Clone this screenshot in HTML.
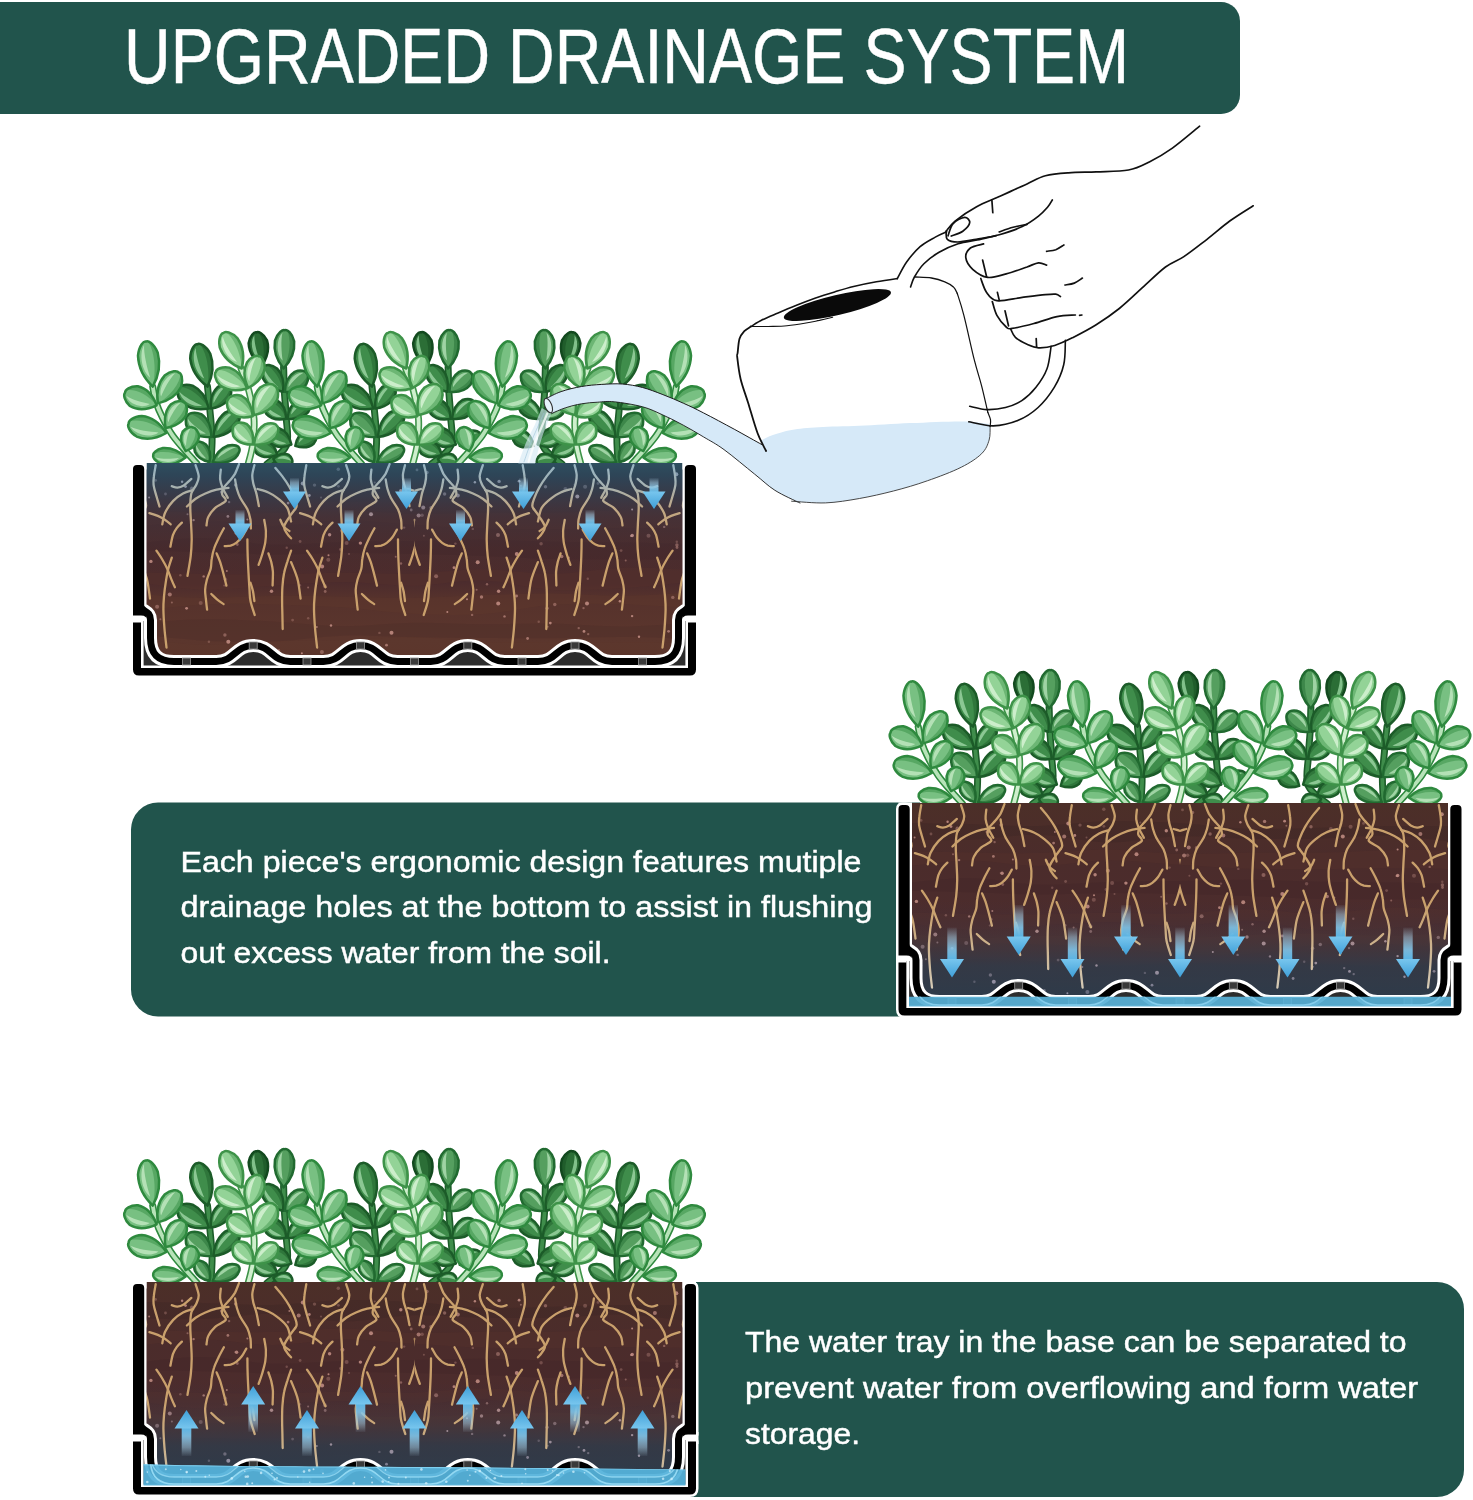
<!DOCTYPE html>
<html><head><meta charset="utf-8"><title>Upgraded Drainage System</title>
<style>
html,body{margin:0;padding:0;background:#fff;}
body{width:1473px;height:1500px;overflow:hidden;font-family:"Liberation Sans",sans-serif;}
svg{display:block;}
text{font-family:"Liberation Sans",sans-serif;fill:#fff;}
</style></head><body>
<svg width="1473" height="1500" viewBox="0 0 1473 1500">
<defs>
<filter id="noop" x="-5%" y="-20%" width="110%" height="140%"><feOffset dx="0" dy="0"/></filter>
<clipPath id="potclip"><path d="M7,0V141C7,150 17.5,146 17.5,157V175C17.5,191 25,198.5 41,198.5H83.2C101.8,198.5 101.8,182.5 120.2,182.5C138.8,182.5 138.8,198.5 157.2,198.5H190.5C209,198.5 209,182.5 227.5,182.5C246,182.5 246,198.5 264.5,198.5H297.8C316.2,198.5 316.2,182.5 334.8,182.5C353.2,182.5 353.2,198.5 371.8,198.5H405C423.5,198.5 423.5,182.5 442,182.5C460.5,182.5 460.5,198.5 479,198.5H522C538,198.5 545.5,191 545.5,175V157C545.5,146 556,150 556,141V0Z"/></clipPath>
<clipPath id="trayclip2"><rect x="10.5" y="193.5" width="542" height="10"/></clipPath><clipPath id="trayclip3"><path d="M10.5,182.3 C120,185.5 300,184 552.5,187.5 V203.5 H10.5Z"/></clipPath>
<linearGradient id="soil" x1="0" y1="0" x2="0" y2="1"><stop offset="0" stop-color="#4c2f28"/><stop offset="0.28" stop-color="#4b2c2b"/><stop offset="0.58" stop-color="#4c2c2d"/><stop offset="0.66" stop-color="#56322c"/><stop offset="0.85" stop-color="#5b362d"/><stop offset="1" stop-color="#5a342b"/></linearGradient>
<linearGradient id="wetTop" x1="0" y1="0" x2="0" y2="1"><stop offset="0" stop-color="#2e4e5f" stop-opacity="1"/><stop offset="0.12" stop-color="#2d4558" stop-opacity="0.97"/><stop offset="0.3" stop-color="#363c4c" stop-opacity="0.85"/><stop offset="0.5" stop-color="#3e3440" stop-opacity="0.55"/><stop offset="0.8" stop-color="#40303a" stop-opacity="0.15"/><stop offset="1" stop-color="#40303a" stop-opacity="0"/></linearGradient>
<linearGradient id="wetBot" x1="0" y1="0" x2="0" y2="1"><stop offset="0" stop-color="#40303a" stop-opacity="0"/><stop offset="0.3" stop-color="#3b3340" stop-opacity="0.45"/><stop offset="0.6" stop-color="#303a49" stop-opacity="0.88"/><stop offset="1" stop-color="#2b3b4b" stop-opacity="1"/></linearGradient>
<linearGradient id="rootG1" gradientUnits="userSpaceOnUse" x1="0" y1="0" x2="0" y2="75"><stop offset="0" stop-color="#94b4c4"/><stop offset="0.3" stop-color="#a6b2b2"/><stop offset="0.6" stop-color="#c0a886"/><stop offset="1" stop-color="#c9a06c"/></linearGradient>
<linearGradient id="rootG2" gradientUnits="userSpaceOnUse" x1="0" y1="105" x2="0" y2="195"><stop offset="0" stop-color="#c9a06c"/><stop offset="0.5" stop-color="#cdb694"/><stop offset="1" stop-color="#d6cfbf"/></linearGradient>
<linearGradient id="rootG3" gradientUnits="userSpaceOnUse" x1="0" y1="120" x2="0" y2="200"><stop offset="0" stop-color="#c9a06c"/><stop offset="0.5" stop-color="#c9ad84"/><stop offset="1" stop-color="#cdc2ac"/></linearGradient>
<linearGradient id="dotG1" gradientUnits="userSpaceOnUse" x1="0" y1="0" x2="0" y2="80"><stop offset="0" stop-color="#8eaec4"/><stop offset="0.5" stop-color="#a39aa8"/><stop offset="1" stop-color="#c48f85"/></linearGradient>
<linearGradient id="dotG2" gradientUnits="userSpaceOnUse" x1="0" y1="105" x2="0" y2="185"><stop offset="0" stop-color="#c48f85"/><stop offset="0.5" stop-color="#b09aa2"/><stop offset="1" stop-color="#a09db2"/></linearGradient>
<linearGradient id="dotG3" gradientUnits="userSpaceOnUse" x1="0" y1="105" x2="0" y2="185"><stop offset="0" stop-color="#c48f85"/><stop offset="0.5" stop-color="#b09aa2"/><stop offset="1" stop-color="#a09db2"/></linearGradient>
<linearGradient id="shaft" x1="0" y1="0" x2="0" y2="1"><stop offset="0" stop-color="#b5d9ee" stop-opacity="0.05"/><stop offset="0.3" stop-color="#a8d3ec" stop-opacity="0.5"/><stop offset="0.7" stop-color="#80c5e9" stop-opacity="0.9"/><stop offset="1" stop-color="#5ab4e4" stop-opacity="1"/></linearGradient>
<linearGradient id="ahead" x1="0" y1="0" x2="0" y2="1"><stop offset="0" stop-color="#78c6ee"/><stop offset="1" stop-color="#3f9fd8"/></linearGradient>
<g id="arrS"><rect x="-4.5" y="-31" width="9" height="15" fill="url(#shaft)"/><path d="M-11.5,-17.5H11.5L0,0Z" fill="url(#ahead)"/></g>
<g id="arrL"><rect x="-4.7" y="-50" width="9.4" height="32" fill="url(#shaft)"/><path d="M-12,-18.5H12L0,0Z" fill="url(#ahead)"/></g>
<g id="arrU"><rect x="-4.8" y="-46" width="9.6" height="28.5" fill="url(#shaft)"/><path d="M-12,-18.5H12L0,0Z" fill="url(#ahead)"/></g>
<g id="dots"><circle cx="188" cy="34.4" r="1" opacity="0.35"/><circle cx="452.1" cy="23.7" r="2" opacity="0.35"/><circle cx="499.1" cy="46.4" r="1" opacity="0.85"/><circle cx="238" cy="51.2" r="2" opacity="0.85"/><circle cx="47.4" cy="112.3" r="1.2" opacity="0.35"/><circle cx="322.4" cy="80.6" r="1.2" opacity="0.35"/><circle cx="311.6" cy="31" r="1.7" opacity="0.5"/><circle cx="303.1" cy="113.3" r="2" opacity="0.5"/><circle cx="70.7" cy="113.4" r="1.2" opacity="0.7"/><circle cx="67.7" cy="139.9" r="2" opacity="0.35"/><circle cx="344.7" cy="99.3" r="2" opacity="0.85"/><circle cx="428.7" cy="93.5" r="1.7" opacity="0.7"/><circle cx="175.2" cy="155.3" r="1.2" opacity="0.35"/><circle cx="321" cy="104.7" r="1.4" opacity="0.85"/><circle cx="168.9" cy="190.3" r="1" opacity="0.85"/><circle cx="103.6" cy="70.3" r="1.7" opacity="0.85"/><circle cx="36.8" cy="131.6" r="2" opacity="0.7"/><circle cx="196.6" cy="71.8" r="1.7" opacity="0.85"/><circle cx="52.5" cy="23.6" r="1.4" opacity="0.85"/><circle cx="386.1" cy="18.2" r="1.4" opacity="0.85"/><circle cx="167.1" cy="78.5" r="1.4" opacity="0.35"/><circle cx="515.5" cy="72.8" r="2" opacity="0.35"/><circle cx="278.2" cy="47" r="1.4" opacity="0.5"/><circle cx="408.1" cy="80.8" r="1.7" opacity="0.35"/><circle cx="104.3" cy="81.5" r="1.4" opacity="0.5"/><circle cx="451" cy="168.4" r="1.4" opacity="0.85"/><circle cx="539.8" cy="134.4" r="1.7" opacity="0.5"/><circle cx="96.1" cy="39.1" r="1.2" opacity="0.5"/><circle cx="22.4" cy="162.2" r="1.2" opacity="0.7"/><circle cx="165.7" cy="33.4" r="2" opacity="0.7"/><circle cx="339.8" cy="65.9" r="1.2" opacity="0.35"/><circle cx="258.5" cy="169.7" r="2" opacity="0.85"/><circle cx="227.4" cy="80.1" r="1.7" opacity="0.85"/><circle cx="49.1" cy="18.7" r="1.2" opacity="0.85"/><circle cx="102.2" cy="69.9" r="1" opacity="0.35"/><circle cx="16.1" cy="34.4" r="1" opacity="0.7"/><circle cx="341.9" cy="19.2" r="1.2" opacity="0.85"/><circle cx="94.9" cy="53.4" r="1.4" opacity="0.7"/><circle cx="267.8" cy="27.7" r="1.7" opacity="0.85"/><circle cx="271.1" cy="64.6" r="1.2" opacity="0.35"/><circle cx="414.1" cy="145.2" r="1.7" opacity="0.5"/><circle cx="290.2" cy="44.6" r="2" opacity="0.7"/><circle cx="93.8" cy="108.1" r="1" opacity="0.7"/><circle cx="535.6" cy="168.3" r="1.4" opacity="0.7"/><circle cx="498.3" cy="72.9" r="1.2" opacity="0.7"/><circle cx="354" cy="121.3" r="1.2" opacity="0.5"/><circle cx="450.5" cy="145.1" r="1.2" opacity="0.5"/><circle cx="290.9" cy="72.8" r="1" opacity="0.35"/><circle cx="435.6" cy="94.8" r="1.2" opacity="0.7"/><circle cx="253.5" cy="182.2" r="1.4" opacity="0.7"/><circle cx="58.8" cy="25.2" r="1.7" opacity="0.5"/><circle cx="195.3" cy="96.7" r="2" opacity="0.35"/><circle cx="270.6" cy="128.8" r="1" opacity="0.35"/><circle cx="499.1" cy="153.1" r="1.2" opacity="0.85"/><circle cx="488.1" cy="87.6" r="1.4" opacity="0.35"/><circle cx="441.2" cy="188.7" r="1.7" opacity="0.85"/><circle cx="229.1" cy="184" r="1.2" opacity="0.5"/><circle cx="543.3" cy="11.2" r="2" opacity="0.85"/><circle cx="444.3" cy="33.5" r="2" opacity="0.85"/><circle cx="365" cy="71.9" r="2" opacity="0.5"/><circle cx="27.4" cy="156.3" r="1" opacity="0.5"/><circle cx="246.4" cy="169.9" r="1.2" opacity="0.35"/><circle cx="149.7" cy="61.1" r="1.2" opacity="0.7"/><circle cx="153.7" cy="84.8" r="1.2" opacity="0.35"/><circle cx="499.2" cy="72.5" r="1.7" opacity="0.85"/><circle cx="455.2" cy="171.1" r="1.2" opacity="0.5"/><circle cx="294" cy="9.5" r="1.7" opacity="0.5"/><circle cx="339.1" cy="151.9" r="1.2" opacity="0.5"/><circle cx="91.2" cy="122.4" r="1" opacity="0.35"/><circle cx="189.1" cy="103.4" r="2" opacity="0.85"/><circle cx="432.4" cy="25.9" r="2" opacity="0.35"/><circle cx="148" cy="58.1" r="1" opacity="0.85"/><circle cx="314.3" cy="148.9" r="1" opacity="0.85"/><circle cx="188.9" cy="189" r="2" opacity="0.5"/><circle cx="383.8" cy="91" r="2" opacity="0.85"/><circle cx="285.6" cy="52.6" r="2" opacity="0.7"/><circle cx="506" cy="173.8" r="1.2" opacity="0.85"/><circle cx="88.8" cy="28.9" r="1.7" opacity="0.7"/><circle cx="54.5" cy="51.2" r="1" opacity="0.5"/><circle cx="371.5" cy="153.4" r="1.2" opacity="0.7"/><circle cx="91.9" cy="172" r="1.7" opacity="0.5"/><circle cx="412.5" cy="23.7" r="1.7" opacity="0.5"/><circle cx="541.6" cy="162.5" r="1.2" opacity="0.85"/><circle cx="543.9" cy="81.9" r="1.7" opacity="0.5"/><circle cx="205.4" cy="23.3" r="1.4" opacity="0.35"/><circle cx="195.5" cy="92.2" r="1" opacity="0.85"/><circle cx="192" cy="123.3" r="2" opacity="0.35"/><circle cx="75.9" cy="178.7" r="1.2" opacity="0.35"/><circle cx="60.6" cy="57.1" r="1.2" opacity="0.7"/><circle cx="417.3" cy="160.1" r="1.4" opacity="0.85"/><circle cx="95.3" cy="178.8" r="2" opacity="0.85"/><circle cx="387.9" cy="22.8" r="1" opacity="0.5"/><circle cx="241.8" cy="19.6" r="1" opacity="0.35"/><circle cx="441.7" cy="21.7" r="1.2" opacity="0.35"/><circle cx="156.4" cy="28.9" r="1" opacity="0.7"/><circle cx="544" cy="84.5" r="1.4" opacity="0.5"/><circle cx="38.9" cy="139.4" r="1" opacity="0.5"/><circle cx="155.1" cy="40.1" r="1.4" opacity="0.7"/><circle cx="298" cy="44.7" r="1.7" opacity="0.5"/><circle cx="159.6" cy="157.1" r="1.4" opacity="0.35"/><circle cx="24.1" cy="143.8" r="2" opacity="0.5"/><circle cx="289.1" cy="52.2" r="1.7" opacity="0.35"/><circle cx="365.6" cy="128.2" r="1.7" opacity="0.85"/><circle cx="531.2" cy="63.9" r="1.2" opacity="0.5"/><circle cx="198" cy="162.5" r="1.2" opacity="0.85"/><circle cx="541.4" cy="190.6" r="1.2" opacity="0.35"/><circle cx="53.6" cy="145.3" r="1.4" opacity="0.85"/><circle cx="102.7" cy="21.9" r="1.7" opacity="0.7"/><circle cx="334" cy="136.2" r="1" opacity="0.85"/><circle cx="114.4" cy="56.6" r="1" opacity="0.7"/><circle cx="209.4" cy="67.8" r="2" opacity="0.7"/><circle cx="145.8" cy="187.5" r="1.4" opacity="0.5"/><circle cx="205.3" cy="6.2" r="1.7" opacity="0.35"/><circle cx="268" cy="100.5" r="1.2" opacity="0.5"/><circle cx="284" cy="6.9" r="1.4" opacity="0.35"/><circle cx="92.4" cy="116.3" r="1.7" opacity="0.35"/><circle cx="175.1" cy="124.4" r="1" opacity="0.5"/><circle cx="365.2" cy="140.6" r="2" opacity="0.85"/><circle cx="421.8" cy="141.5" r="1.7" opacity="0.5"/><circle cx="166.9" cy="122.3" r="1.2" opacity="0.35"/><circle cx="454" cy="140.4" r="2" opacity="0.85"/><circle cx="405.7" cy="158.7" r="1.2" opacity="0.35"/><circle cx="454.8" cy="115.8" r="1.2" opacity="0.35"/><circle cx="32.5" cy="31" r="1.4" opacity="0.35"/><circle cx="216" cy="90.9" r="1" opacity="0.35"/><circle cx="348.5" cy="134" r="1.7" opacity="0.7"/><circle cx="17.8" cy="156" r="2" opacity="0.35"/><circle cx="366.1" cy="18.4" r="1.7" opacity="0.7"/><circle cx="445.7" cy="165.1" r="1.2" opacity="0.5"/><circle cx="138.5" cy="128.2" r="1.7" opacity="0.85"/><circle cx="465" cy="20.4" r="1.4" opacity="0.35"/><circle cx="343.6" cy="126.8" r="1" opacity="0.5"/><circle cx="192.2" cy="128.5" r="1.4" opacity="0.5"/><circle cx="22.6" cy="17.4" r="1.4" opacity="0.35"/><circle cx="383.6" cy="133" r="1.4" opacity="0.7"/><circle cx="262.7" cy="93.7" r="1" opacity="0.5"/><circle cx="181.5" cy="22.1" r="1.7" opacity="0.35"/><circle cx="169.8" cy="20.4" r="2" opacity="0.85"/><circle cx="543.8" cy="78.7" r="1.2" opacity="0.35"/><circle cx="324.8" cy="32.6" r="2" opacity="0.7"/><circle cx="521.9" cy="30.9" r="2" opacity="0.7"/><circle cx="486.9" cy="138.2" r="1.2" opacity="0.85"/><circle cx="492.7" cy="97.4" r="1" opacity="0.5"/><circle cx="17.9" cy="98.4" r="1.7" opacity="0.85"/><circle cx="176.3" cy="32.5" r="1.4" opacity="0.85"/><circle cx="183.8" cy="164" r="1" opacity="0.7"/><circle cx="414.6" cy="163.8" r="1" opacity="0.5"/><circle cx="394.6" cy="175.5" r="1.4" opacity="0.7"/><circle cx="213.6" cy="79.9" r="2" opacity="0.35"/><circle cx="207.5" cy="86.5" r="1.4" opacity="0.35"/></g>
<g id="bands"><path d="M0,19.9C11.7,20.1 46.7,20.4 70,21C93.3,21.5 116.7,23.5 140,23C163.3,22.5 186.7,18.6 210,18.1C233.3,17.6 256.7,18.8 280,20.1C303.3,21.4 326.7,25.2 350,26C373.3,26.7 396.7,25.2 420,24.7C443.3,24.2 466.7,23.4 490,23.1C513.3,22.8 548.3,23.1 560,23.1L560,39.7C548.3,38.5 513.3,33.2 490,32.5C466.7,31.9 443.3,35.2 420,35.8C396.7,36.3 373.3,36.1 350,35.7C326.7,35.3 303.3,32.7 280,33.3C256.7,34 233.3,39.7 210,39.4C186.7,39.1 163.3,32 140,31.7C116.7,31.3 93.3,36.2 70,37C46.7,37.8 11.7,36.5 0,36.4Z" fill="#3d2426" opacity="0.35"/><path d="M0,48.2C11.7,48.4 46.7,49.1 70,49.4C93.3,49.7 116.7,50.6 140,50.1C163.3,49.6 186.7,46.3 210,46.4C233.3,46.6 256.7,50.4 280,50.9C303.3,51.5 326.7,50 350,49.8C373.3,49.5 396.7,50.1 420,49.7C443.3,49.3 466.7,47.5 490,47.2C513.3,46.8 548.3,47.5 560,47.6L560,66.4C548.3,66.1 513.3,65 490,65C466.7,65 443.3,66.1 420,66.2C396.7,66.3 373.3,66.5 350,65.8C326.7,65 303.3,63.1 280,61.7C256.7,60.3 233.3,57.1 210,57.3C186.7,57.5 163.3,62.9 140,62.9C116.7,63 93.3,57.4 70,57.6C46.7,57.9 11.7,63.3 0,64.4Z" fill="#5a342c" opacity="0.25"/><path d="M0,81C11.7,80 46.7,75 70,75.1C93.3,75.2 116.7,81.1 140,81.7C163.3,82.4 186.7,79.6 210,79C233.3,78.4 256.7,78.4 280,78.1C303.3,77.7 326.7,76.7 350,76.8C373.3,76.9 396.7,78.2 420,78.7C443.3,79.1 466.7,79.1 490,79.5C513.3,79.8 548.3,80.6 560,80.9L560,96.9C548.3,96.8 513.3,96.4 490,96.3C466.7,96.1 443.3,96.6 420,96C396.7,95.5 373.3,93.7 350,92.9C326.7,92 303.3,91.3 280,90.9C256.7,90.4 233.3,89.9 210,90C186.7,90.1 163.3,91.5 140,91.4C116.7,91.2 93.3,89.7 70,89.2C46.7,88.6 11.7,88.2 0,88Z" fill="#3f2327" opacity="0.3"/><path d="M0,109.4C11.7,109.6 46.7,110.6 70,110.9C93.3,111.2 116.7,111.4 140,111.2C163.3,111 186.7,109.8 210,109.7C233.3,109.6 256.7,111.2 280,110.7C303.3,110.1 326.7,106.2 350,106.3C373.3,106.3 396.7,111.1 420,110.8C443.3,110.6 466.7,105.3 490,104.7C513.3,104.1 548.3,106.9 560,107.3L560,118.5C548.3,119.6 513.3,123.6 490,125C466.7,126.4 443.3,128.1 420,126.9C396.7,125.7 373.3,118.3 350,117.6C326.7,116.9 303.3,122.5 280,122.7C256.7,123 233.3,119.1 210,119.1C186.7,119.1 163.3,121.4 140,122.7C116.7,123.9 93.3,127.3 70,126.6C46.7,126 11.7,120 0,118.6Z" fill="#5b352c" opacity="0.25"/><path d="M0,130.4C11.7,131.1 46.7,134.6 70,135C93.3,135.4 116.7,133.1 140,132.9C163.3,132.7 186.7,133.4 210,133.7C233.3,134.1 256.7,135.3 280,135C303.3,134.8 326.7,132.8 350,132C373.3,131.3 396.7,130.4 420,130.5C443.3,130.6 466.7,132.9 490,132.8C513.3,132.6 548.3,130.1 560,129.6L560,145.1C548.3,144.5 513.3,141.9 490,141.3C466.7,140.8 443.3,140.2 420,141.8C396.7,143.4 373.3,149.5 350,151C326.7,152.5 303.3,151.9 280,150.8C256.7,149.7 233.3,145.9 210,144.3C186.7,142.8 163.3,141.9 140,141.4C116.7,141 93.3,140.2 70,141.4C46.7,142.6 11.7,147.5 0,148.7Z" fill="#633a2c" opacity="0.25"/><path d="M0,160.9C11.7,160.1 46.7,156.7 70,156.3C93.3,155.9 116.7,157.4 140,158.5C163.3,159.6 186.7,163 210,163.2C233.3,163.4 256.7,160 280,159.7C303.3,159.3 326.7,161 350,161.2C373.3,161.3 396.7,160.1 420,160.5C443.3,160.9 466.7,163.7 490,163.5C513.3,163.4 548.3,160.1 560,159.4L560,176.2C548.3,175.8 513.3,174.2 490,174.1C466.7,173.9 443.3,175.1 420,175.2C396.7,175.3 373.3,175.1 350,175C326.7,174.8 303.3,174.6 280,174.2C256.7,173.8 233.3,172 210,172.8C186.7,173.5 163.3,177.8 140,178.6C116.7,179.4 93.3,179 70,177.7C46.7,176.3 11.7,171.7 0,170.6Z" fill="#4a2a28" opacity="0.3"/><path d="M0,175.9C11.7,176.9 46.7,181.4 70,181.8C93.3,182.2 116.7,179.1 140,178.4C163.3,177.6 186.7,178 210,177.3C233.3,176.6 256.7,173.9 280,174.2C303.3,174.4 326.7,178.2 350,179.1C373.3,179.9 396.7,179 420,179C443.3,179.1 466.7,179.3 490,179.4C513.3,179.5 548.3,179.6 560,179.7L560,194.4C548.3,193.7 513.3,191 490,190.5C466.7,190.1 443.3,192.1 420,191.7C396.7,191.2 373.3,187.4 350,187.6C326.7,187.9 303.3,192.3 280,193.2C256.7,194 233.3,193.8 210,192.8C186.7,191.8 163.3,187.2 140,187.1C116.7,187 93.3,191.7 70,192.2C46.7,192.7 11.7,190.4 0,190Z" fill="#643a2b" opacity="0.2"/></g>
<g id="holes"><rect x="49.5" y="195" width="8" height="7" fill="#3a3a3a" stroke="#9a9a9a" stroke-width="0.8"/><rect x="170" y="195" width="8" height="7" fill="#3a3a3a" stroke="#9a9a9a" stroke-width="0.8"/><rect x="277.5" y="195" width="8" height="7" fill="#3a3a3a" stroke="#9a9a9a" stroke-width="0.8"/><rect x="385" y="195" width="8" height="7" fill="#3a3a3a" stroke="#9a9a9a" stroke-width="0.8"/><rect x="505.5" y="195" width="8" height="7" fill="#3a3a3a" stroke="#9a9a9a" stroke-width="0.8"/><rect x="116.2" y="179" width="8" height="7" fill="#3a3a3a" stroke="#9a9a9a" stroke-width="0.8"/><rect x="223.5" y="179" width="8" height="7" fill="#3a3a3a" stroke="#9a9a9a" stroke-width="0.8"/><rect x="330.8" y="179" width="8" height="7" fill="#3a3a3a" stroke="#9a9a9a" stroke-width="0.8"/><rect x="438" y="179" width="8" height="7" fill="#3a3a3a" stroke="#9a9a9a" stroke-width="0.8"/></g>
<g id="boxBack"><path d="M0,152.5V6Q0,2 4,2H7.2Q11.2,2 11.2,6V146L14.5,158Q14,152.5 8,152.5ZM563,152.5V6Q563,2 559,2H555.8Q551.8,2 551.8,6V146L548.5,158Q549,152.5 555,152.5ZM0,159.5V206.5Q0,212.5 6,212.5H557Q563,212.5 563,206.5V159.5H555V205H8V159.5Z" fill="#fff" stroke="#fff" stroke-width="5" stroke-linejoin="round"/><rect x="-2.5" y="150" width="568" height="12" fill="#fff"/><rect x="8" y="158" width="547" height="47" fill="#2d2d2d"/><path d="M0,159.5V206.5Q0,212.5 6,212.5H557Q563,212.5 563,206.5V159.5H555V205H8V159.5Z" fill="#000"/><path d="M9.3,158V203.7H553.7V158" fill="none" stroke="#fff" stroke-width="2.6"/></g>
<g id="boxFront"><path d="M7,0V141C7,150 17.5,146 17.5,157V175C17.5,191 25,198.5 41,198.5H83.2C101.8,198.5 101.8,182.5 120.2,182.5C138.8,182.5 138.8,198.5 157.2,198.5H190.5C209,198.5 209,182.5 227.5,182.5C246,182.5 246,198.5 264.5,198.5H297.8C316.2,198.5 316.2,182.5 334.8,182.5C353.2,182.5 353.2,198.5 371.8,198.5H405C423.5,198.5 423.5,182.5 442,182.5C460.5,182.5 460.5,198.5 479,198.5H522C538,198.5 545.5,191 545.5,175V157C545.5,146 556,150 556,141V0" fill="none" stroke="#fff" stroke-width="13"/><path d="M7,0V141C7,150 17.5,146 17.5,157V175C17.5,191 25,198.5 41,198.5H83.2C101.8,198.5 101.8,182.5 120.2,182.5C138.8,182.5 138.8,198.5 157.2,198.5H190.5C209,198.5 209,182.5 227.5,182.5C246,182.5 246,198.5 264.5,198.5H297.8C316.2,198.5 316.2,182.5 334.8,182.5C353.2,182.5 353.2,198.5 371.8,198.5H405C423.5,198.5 423.5,182.5 442,182.5C460.5,182.5 460.5,198.5 479,198.5H522C538,198.5 545.5,191 545.5,175V157C545.5,146 556,150 556,141V0" fill="none" stroke="#000" stroke-width="7" /><rect x="0" y="-0.5" width="13.5" height="7" fill="#fff"/><rect x="549.5" y="-0.5" width="13.5" height="7" fill="#fff"/><path d="M0,152.5V6Q0,2 4,2H7.2Q11.2,2 11.2,6V146L14.5,158Q14,152.5 8,152.5ZM563,152.5V6Q563,2 559,2H555.8Q551.8,2 551.8,6V146L548.5,158Q549,152.5 555,152.5Z" fill="#000"/><use href="#holes"/></g>
<g id="stemA"><path d="M64.2,1C62.3,-1.2 56.7,-7.2 52.6,-11.9C48.5,-16.6 43.6,-21.8 39.7,-27.4C35.9,-33 32.2,-39.9 29.4,-45.5C26.6,-51 24.6,-55.8 23,-60.9C21.3,-66.1 20.3,-73.8 19.7,-76.4" fill="none" stroke="#2f8a3f" stroke-width="7" stroke-linecap="round"/><path d="M64.2,1C62.3,-1.2 56.7,-7.2 52.6,-11.9C48.5,-16.6 43.6,-21.8 39.7,-27.4C35.9,-33 32.2,-39.9 29.4,-45.5C26.6,-51 24.6,-55.8 23,-60.9C21.3,-66.1 20.3,-73.8 19.7,-76.4" fill="none" stroke="#b7e3b8" stroke-width="3.8" stroke-linecap="round"/><g transform="translate(52.6,-5.5) rotate(-86.4)"><path d="M0,0C-2.3,-2.6 -9.4,-11.6 -8,-23.2C-6,-30.3 -1.6,-33.2 0,-32.3C1.6,-33.2 6,-30.3 8,-23.2C9.4,-11.6 2.3,-2.6 0,0Z" fill="#78c082" stroke="#2f8a3f" stroke-width="2.5" stroke-linejoin="round"/><path d="M0,0C2.3,-2.6 9.4,-11.6 8,-23.2C6.8,-29 4.2,-31.9 1.6,-32.3C5.5,-25.8 5.2,-11.3 0,0Z" fill="#2f8a3f" opacity="0.45"/><path d="M-1,-6.5C-6.8,-11.6 -7.2,-24.5 -2,-30C-3.3,-23.9 -2.3,-13.5 -1,-6.5Z" fill="#b7e3b8" opacity="0.95"/></g><g transform="translate(52.6,-11.9) rotate(17.4)"><path d="M0,0C-2.5,-2 -10.2,-8.9 -8.6,-17.7C-6.5,-23.1 -1.8,-25.3 0,-24.6C1.8,-25.3 6.5,-23.1 8.6,-17.7C10.2,-8.9 2.5,-2 0,0Z" fill="#78c082" stroke="#2f8a3f" stroke-width="2.5" stroke-linejoin="round"/><path d="M0,0C2.5,-2 10.2,-8.9 8.6,-17.7C7.4,-22.1 4.6,-24.4 1.8,-24.6C6,-19.7 5.6,-8.6 0,0Z" fill="#2f8a3f" opacity="0.45"/><path d="M-1.1,-4.9C-7.4,-8.9 -7.7,-18.7 -2.1,-22.9C-3.5,-18.2 -2.5,-10.3 -1.1,-4.9Z" fill="#b7e3b8" opacity="0.95"/></g><g transform="translate(33.3,-30) rotate(-76)"><path d="M0,0C-3,-3.1 -12.6,-13.9 -10.6,-27.9C-8,-36.4 -2.2,-39.9 0,-38.7C2.2,-39.9 8,-36.4 10.6,-27.9C12.6,-13.9 3,-3.1 0,0Z" fill="#78c082" stroke="#2f8a3f" stroke-width="2.5" stroke-linejoin="round"/><path d="M0,0C3,-3.1 12.6,-13.9 10.6,-27.9C9.1,-34.8 5.6,-38.3 2.2,-38.7C7.4,-31 6.9,-13.6 0,0Z" fill="#2f8a3f" opacity="0.45"/><path d="M-1.3,-7.7C-9.1,-13.9 -9.5,-29.4 -2.6,-36C-4.3,-28.6 -3,-16.3 -1.3,-7.7Z" fill="#b7e3b8" opacity="0.95"/></g><g transform="translate(32.6,-35.1) rotate(35.4)"><path d="M0,0C-2.7,-2.5 -11,-11.3 -9.3,-22.5C-7,-29.4 -1.9,-32.2 0,-31.3C1.9,-32.2 7,-29.4 9.3,-22.5C11,-11.3 2.7,-2.5 0,0Z" fill="#78c082" stroke="#2f8a3f" stroke-width="2.5" stroke-linejoin="round"/><path d="M0,0C2.7,-2.5 11,-11.3 9.3,-22.5C8,-28.1 4.9,-31 1.9,-31.3C6.4,-25 6.1,-10.9 0,0Z" fill="#2f8a3f" opacity="0.45"/><path d="M-1.1,-6.3C-8,-11.3 -8.3,-23.8 -2.3,-29.1C-3.8,-23.1 -2.7,-13.1 -1.1,-6.3Z" fill="#b7e3b8" opacity="0.95"/></g><g transform="translate(23.6,-57.7) rotate(-68)"><path d="M0,0C-3,-2.7 -12.6,-12.2 -10.6,-24.5C-8,-32 -2.2,-35 0,-34C2.2,-35 8,-32 10.6,-24.5C12.6,-12.2 3,-2.7 0,0Z" fill="#78c082" stroke="#2f8a3f" stroke-width="2.5" stroke-linejoin="round"/><path d="M0,0C3,-2.7 12.6,-12.2 10.6,-24.5C9.1,-30.6 5.6,-33.7 2.2,-34C7.4,-27.2 6.9,-11.9 0,0Z" fill="#2f8a3f" opacity="0.45"/><path d="M-1.3,-6.8C-9.1,-12.2 -9.5,-25.8 -2.6,-31.6C-4.3,-25.2 -3,-14.3 -1.3,-6.8Z" fill="#b7e3b8" opacity="0.95"/></g><g transform="translate(24.9,-59.6) rotate(34)"><path d="M0,0C-2.8,-3 -11.8,-13.4 -10,-26.8C-7.5,-35 -2,-38.3 0,-37.2C2,-38.3 7.5,-35 10,-26.8C11.8,-13.4 2.8,-3 0,0Z" fill="#78c082" stroke="#2f8a3f" stroke-width="2.5" stroke-linejoin="round"/><path d="M0,0C2.8,-3 11.8,-13.4 10,-26.8C8.5,-33.5 5.3,-36.8 2,-37.2C6.9,-29.8 6.5,-13 0,0Z" fill="#2f8a3f" opacity="0.45"/><path d="M-1.2,-7.4C-8.5,-13.4 -8.9,-28.3 -2.4,-34.6C-4.1,-27.5 -2.8,-15.6 -1.2,-7.4Z" fill="#b7e3b8" opacity="0.95"/></g><g transform="translate(19.7,-76.4) rotate(-8.5)"><path d="M0,0C-2.8,-3.6 -11.8,-16.4 -10,-32.7C-7.5,-42.7 -2,-46.8 0,-45.4C2,-46.8 7.5,-42.7 10,-32.7C11.8,-16.4 2.8,-3.6 0,0Z" fill="#78c082" stroke="#2f8a3f" stroke-width="2.5" stroke-linejoin="round"/><path d="M0,0C2.8,-3.6 11.8,-16.4 10,-32.7C8.5,-40.9 5.3,-45 2,-45.4C6.9,-36.3 6.5,-15.9 0,0Z" fill="#2f8a3f" opacity="0.45"/><path d="M-1.2,-9.1C-8.5,-16.4 -8.9,-34.5 -2.4,-42.3C-4.1,-33.6 -2.8,-19.1 -1.2,-9.1Z" fill="#b7e3b8" opacity="0.95"/></g></g>
<g id="stemB"><path d="M77.8,1C78,-3.3 79.2,-16.2 79.1,-24.8C79,-33.4 77.9,-42 77.1,-50.6C76.4,-59.2 75,-72.1 74.5,-76.4" fill="none" stroke="#1c5c29" stroke-width="7" stroke-linecap="round"/><path d="M77.8,1C78,-3.3 79.2,-16.2 79.1,-24.8C79,-33.4 77.9,-42 77.1,-50.6C76.4,-59.2 75,-72.1 74.5,-76.4" fill="none" stroke="#3f8d4b" stroke-width="3.8" stroke-linecap="round"/><g transform="translate(76.5,-1) rotate(-33.2)"><path d="M0,0C-1.9,-1.9 -7.9,-8.4 -6.6,-16.7C-5,-21.9 -1.4,-24 0,-23.3C1.4,-24 5,-21.9 6.6,-16.7C7.9,-8.4 1.9,-1.9 0,0Z" fill="#559f5f" stroke="#216a30" stroke-width="2.5" stroke-linejoin="round"/><path d="M0,0C1.9,-1.9 7.9,-8.4 6.6,-16.7C5.7,-20.9 3.5,-23 1.4,-23.3C4.6,-18.6 4.3,-8.1 0,0Z" fill="#216a30" opacity="0.45"/><path d="M-0.8,-4.7C-5.7,-8.4 -6,-17.7 -1.6,-21.6C-2.7,-17.2 -1.9,-9.8 -0.8,-4.7Z" fill="#a3d6a8" opacity="0.95"/></g><g transform="translate(79.7,-1) rotate(61.7)"><path d="M0,0C-2.1,-2.4 -8.6,-10.7 -7.3,-21.4C-5.5,-27.9 -1.5,-30.6 0,-29.7C1.5,-30.6 5.5,-27.9 7.3,-21.4C8.6,-10.7 2.1,-2.4 0,0Z" fill="#559f5f" stroke="#216a30" stroke-width="2.5" stroke-linejoin="round"/><path d="M0,0C2.1,-2.4 8.6,-10.7 7.3,-21.4C6.3,-26.7 3.9,-29.4 1.5,-29.7C5.1,-23.8 4.8,-10.4 0,0Z" fill="#216a30" opacity="0.45"/><path d="M-0.9,-5.9C-6.3,-10.7 -6.6,-22.6 -1.8,-27.6C-3,-22 -2.1,-12.5 -0.9,-5.9Z" fill="#a3d6a8" opacity="0.95"/></g><g transform="translate(78.4,-26.1) rotate(-47.6)"><path d="M0,0C-2.8,-2.5 -11.8,-11.5 -10,-22.9C-7.5,-29.9 -2,-32.8 0,-31.8C2,-32.8 7.5,-29.9 10,-22.9C11.8,-11.5 2.8,-2.5 0,0Z" fill="#559f5f" stroke="#216a30" stroke-width="2.5" stroke-linejoin="round"/><path d="M0,0C2.8,-2.5 11.8,-11.5 10,-22.9C8.5,-28.6 5.3,-31.5 2,-31.8C6.9,-25.4 6.5,-11.1 0,0Z" fill="#216a30" opacity="0.45"/><path d="M-1.2,-6.4C-8.5,-11.5 -8.9,-24.2 -2.4,-29.6C-4.1,-23.5 -2.8,-13.4 -1.2,-6.4Z" fill="#a3d6a8" opacity="0.95"/></g><g transform="translate(80.4,-26.1) rotate(44.2)"><path d="M0,0C-2.5,-2.8 -10.2,-12.8 -8.6,-25.6C-6.5,-33.4 -1.8,-36.6 0,-35.6C1.8,-36.6 6.5,-33.4 8.6,-25.6C10.2,-12.8 2.5,-2.8 0,0Z" fill="#3f8d4b" stroke="#1c5c29" stroke-width="2.5" stroke-linejoin="round"/><path d="M0,0C2.5,-2.8 10.2,-12.8 8.6,-25.6C7.4,-32 4.6,-35.2 1.8,-35.6C6,-28.5 5.6,-12.5 0,0Z" fill="#1c5c29" opacity="0.45"/><path d="M-1.1,-7.1C-7.4,-12.8 -7.7,-27 -2.1,-33.1C-3.5,-26.3 -2.5,-14.9 -1.1,-7.1Z" fill="#8fca97" opacity="0.95"/></g><g transform="translate(75.8,-54.5) rotate(-56.3)"><path d="M0,0C-2.8,-2.9 -11.8,-13.1 -10,-26.1C-7.5,-34.1 -2,-37.4 0,-36.3C2,-37.4 7.5,-34.1 10,-26.1C11.8,-13.1 2.8,-2.9 0,0Z" fill="#3f8d4b" stroke="#1c5c29" stroke-width="2.5" stroke-linejoin="round"/><path d="M0,0C2.8,-2.9 11.8,-13.1 10,-26.1C8.5,-32.6 5.3,-35.9 2,-36.3C6.9,-29 6.5,-12.7 0,0Z" fill="#1c5c29" opacity="0.45"/><path d="M-1.2,-7.3C-8.5,-13.1 -8.9,-27.6 -2.4,-33.7C-4.1,-26.8 -2.8,-15.2 -1.2,-7.3Z" fill="#8fca97" opacity="0.95"/></g><g transform="translate(77.8,-54.5) rotate(38.5)"><path d="M0,0C-2.3,-2.3 -9.4,-10.5 -8,-21C-6,-27.4 -1.6,-30 0,-29.1C1.6,-30 6,-27.4 8,-21C9.4,-10.5 2.3,-2.3 0,0Z" fill="#3f8d4b" stroke="#1c5c29" stroke-width="2.5" stroke-linejoin="round"/><path d="M0,0C2.3,-2.3 9.4,-10.5 8,-21C6.8,-26.2 4.2,-28.8 1.6,-29.1C5.5,-23.3 5.2,-10.2 0,0Z" fill="#1c5c29" opacity="0.45"/><path d="M-1,-5.8C-6.8,-10.5 -7.2,-22.1 -2,-27.1C-3.3,-21.5 -2.3,-12.2 -1,-5.8Z" fill="#8fca97" opacity="0.95"/></g><g transform="translate(74.5,-76.4) rotate(-13.4)"><path d="M0,0C-2.9,-3.5 -12.2,-15.6 -10.3,-31.3C-7.8,-40.8 -2.1,-44.7 0,-43.4C2.1,-44.7 7.8,-40.8 10.3,-31.3C12.2,-15.6 2.9,-3.5 0,0Z" fill="#3f8d4b" stroke="#1c5c29" stroke-width="2.5" stroke-linejoin="round"/><path d="M0,0C2.9,-3.5 12.2,-15.6 10.3,-31.3C8.8,-39.1 5.5,-43 2.1,-43.4C7.1,-34.7 6.7,-15.2 0,0Z" fill="#1c5c29" opacity="0.45"/><path d="M-1.3,-8.7C-8.8,-15.6 -9.2,-33 -2.5,-40.4C-4.2,-32.1 -2.9,-18.2 -1.3,-8.7Z" fill="#8fca97" opacity="0.95"/></g></g>
<g id="stemC"><path d="M115.2,1C115.9,-2.2 118.7,-10.8 119.7,-18.4C120.7,-25.9 121.6,-35.1 121,-44.2C120.3,-53.2 118,-64.2 115.8,-72.5C113.7,-80.9 109.4,-90.8 108.1,-94.5" fill="none" stroke="#3e9349" stroke-width="7" stroke-linecap="round"/><path d="M115.2,1C115.9,-2.2 118.7,-10.8 119.7,-18.4C120.7,-25.9 121.6,-35.1 121,-44.2C120.3,-53.2 118,-64.2 115.8,-72.5C113.7,-80.9 109.4,-90.8 108.1,-94.5" fill="none" stroke="#cfefcd" stroke-width="3.8" stroke-linecap="round"/><g transform="translate(119.7,-18.4) rotate(-40.9)"><path d="M0,0C-2.6,-2.1 -10.6,-9.6 -9,-19.2C-6.8,-25 -1.8,-27.4 0,-26.6C1.8,-27.4 6.8,-25 9,-19.2C10.6,-9.6 2.6,-2.1 0,0Z" fill="#93d397" stroke="#3e9349" stroke-width="2.5" stroke-linejoin="round"/><path d="M0,0C2.6,-2.1 10.6,-9.6 9,-19.2C7.7,-24 4.8,-26.4 1.8,-26.6C6.2,-21.3 5.9,-9.3 0,0Z" fill="#3e9349" opacity="0.45"/><path d="M-1.1,-5.3C-7.7,-9.6 -8,-20.2 -2.2,-24.8C-3.7,-19.7 -2.6,-11.2 -1.1,-5.3Z" fill="#cfefcd" opacity="0.95"/></g><g transform="translate(121,-18.4) rotate(50.5)"><path d="M0,0C-2.5,-2.4 -10.2,-10.6 -8.6,-21.3C-6.5,-27.8 -1.8,-30.4 0,-29.5C1.8,-30.4 6.5,-27.8 8.6,-21.3C10.2,-10.6 2.5,-2.4 0,0Z" fill="#93d397" stroke="#3e9349" stroke-width="2.5" stroke-linejoin="round"/><path d="M0,0C2.5,-2.4 10.2,-10.6 8.6,-21.3C7.4,-26.6 4.6,-29.2 1.8,-29.5C6,-23.6 5.6,-10.3 0,0Z" fill="#3e9349" opacity="0.45"/><path d="M-1.1,-5.9C-7.4,-10.6 -7.7,-22.5 -2.1,-27.5C-3.5,-21.9 -2.5,-12.4 -1.1,-5.9Z" fill="#cfefcd" opacity="0.95"/></g><g transform="translate(119.7,-46.7) rotate(-54.2)"><path d="M0,0C-2.8,-2.4 -11.8,-10.7 -10,-21.4C-7.5,-28 -2,-30.7 0,-29.8C2,-30.7 7.5,-28 10,-21.4C11.8,-10.7 2.8,-2.4 0,0Z" fill="#93d397" stroke="#3e9349" stroke-width="2.5" stroke-linejoin="round"/><path d="M0,0C2.8,-2.4 11.8,-10.7 10,-21.4C8.5,-26.8 5.3,-29.5 2,-29.8C6.9,-23.8 6.5,-10.4 0,0Z" fill="#3e9349" opacity="0.45"/><path d="M-1.2,-6C-8.5,-10.7 -8.9,-22.6 -2.4,-27.7C-4.1,-22 -2.8,-12.5 -1.2,-6Z" fill="#cfefcd" opacity="0.95"/></g><g transform="translate(121,-48) rotate(34.3)"><path d="M0,0C-3,-2.9 -12.6,-12.9 -10.6,-25.7C-8,-33.6 -2.2,-36.8 0,-35.7C2.2,-36.8 8,-33.6 10.6,-25.7C12.6,-12.9 3,-2.9 0,0Z" fill="#93d397" stroke="#3e9349" stroke-width="2.5" stroke-linejoin="round"/><path d="M0,0C3,-2.9 12.6,-12.9 10.6,-25.7C9.1,-32.1 5.6,-35.4 2.2,-35.7C7.4,-28.6 6.9,-12.5 0,0Z" fill="#3e9349" opacity="0.45"/><path d="M-1.3,-7.1C-9.1,-12.9 -9.5,-27.1 -2.6,-33.2C-4.3,-26.4 -3,-15 -1.3,-7.1Z" fill="#cfefcd" opacity="0.95"/></g><g transform="translate(108.7,-94.5) rotate(-27)"><path d="M0,0C-2.8,-3.2 -11.8,-14.4 -10,-28.7C-7.5,-37.5 -2,-41.1 0,-39.9C2,-41.1 7.5,-37.5 10,-28.7C11.8,-14.4 2.8,-3.2 0,0Z" fill="#93d397" stroke="#3e9349" stroke-width="2.5" stroke-linejoin="round"/><path d="M0,0C2.8,-3.2 11.8,-14.4 10,-28.7C8.5,-35.9 5.3,-39.5 2,-39.9C6.9,-31.9 6.5,-14 0,0Z" fill="#3e9349" opacity="0.45"/><path d="M-1.2,-8C-8.5,-14.4 -8.9,-30.3 -2.4,-37.1C-4.1,-29.5 -2.8,-16.8 -1.2,-8Z" fill="#cfefcd" opacity="0.95"/></g><g transform="translate(113.9,-74.5) rotate(-61.5)"><path d="M0,0C-2.8,-2.8 -11.8,-12.6 -10,-25.3C-7.5,-33 -2,-36.2 0,-35.1C2,-36.2 7.5,-33 10,-25.3C11.8,-12.6 2.8,-2.8 0,0Z" fill="#93d397" stroke="#3e9349" stroke-width="2.5" stroke-linejoin="round"/><path d="M0,0C2.8,-2.8 11.8,-12.6 10,-25.3C8.5,-31.6 5.3,-34.8 2,-35.1C6.9,-28.1 6.5,-12.3 0,0Z" fill="#3e9349" opacity="0.45"/><path d="M-1.2,-7C-8.5,-12.6 -8.9,-26.7 -2.4,-32.7C-4.1,-26 -2.8,-14.7 -1.2,-7Z" fill="#cfefcd" opacity="0.95"/></g><g transform="translate(115.2,-75.1) rotate(18.8)"><path d="M0,0C-2.7,-2.7 -11,-12 -9.3,-24C-7,-31.3 -1.9,-34.3 0,-33.3C1.9,-34.3 7,-31.3 9.3,-24C11,-12 2.7,-2.7 0,0Z" fill="#93d397" stroke="#3e9349" stroke-width="2.5" stroke-linejoin="round"/><path d="M0,0C2.7,-2.7 11,-12 9.3,-24C8,-30 4.9,-33 1.9,-33.3C6.4,-26.6 6.1,-11.7 0,0Z" fill="#3e9349" opacity="0.45"/><path d="M-1.1,-6.7C-8,-12 -8.3,-25.3 -2.3,-31C-3.8,-24.6 -2.7,-14 -1.1,-6.7Z" fill="#cfefcd" opacity="0.95"/></g></g>
<g id="stemD"><path d="M133.9,1C137.1,-2 150,-9.3 153.2,-17.1C156.5,-24.8 153.6,-36.2 153.2,-45.5C152.9,-54.7 151.7,-64.2 151.3,-72.5C150.9,-80.9 150.8,-91.9 150.6,-95.8" fill="none" stroke="#1c5c29" stroke-width="7" stroke-linecap="round"/><path d="M133.9,1C137.1,-2 150,-9.3 153.2,-17.1C156.5,-24.8 153.6,-36.2 153.2,-45.5C152.9,-54.7 151.7,-64.2 151.3,-72.5C150.9,-80.9 150.8,-91.9 150.6,-95.8" fill="none" stroke="#3f8d4b" stroke-width="3.8" stroke-linecap="round"/><g transform="translate(128.7,-97) rotate(-9.1)"><path d="M0,0C-2.7,-2.7 -11,-12.2 -9.3,-24.5C-7,-31.9 -1.9,-35 0,-34C1.9,-35 7,-31.9 9.3,-24.5C11,-12.2 2.7,-2.7 0,0Z" fill="#2b6e36" stroke="#134a1f" stroke-width="2.5" stroke-linejoin="round"/><path d="M0,0C2.7,-2.7 11,-12.2 9.3,-24.5C8,-30.6 4.9,-33.6 1.9,-34C6.4,-27.2 6.1,-11.9 0,0Z" fill="#134a1f" opacity="0.45"/><path d="M-1.1,-6.8C-8,-12.2 -8.3,-25.8 -2.3,-31.6C-3.8,-25.1 -2.7,-14.3 -1.1,-6.8Z" fill="#86c48f" opacity="0.95"/></g><g transform="translate(144.2,-8) rotate(-62.1)"><path d="M0,0C-2.4,-2.1 -9.8,-9.3 -8.3,-18.6C-6.3,-24.3 -1.7,-26.6 0,-25.8C1.7,-26.6 6.3,-24.3 8.3,-18.6C9.8,-9.3 2.4,-2.1 0,0Z" fill="#3f8d4b" stroke="#1c5c29" stroke-width="2.5" stroke-linejoin="round"/><path d="M0,0C2.4,-2.1 9.8,-9.3 8.3,-18.6C7.1,-23.2 4.4,-25.5 1.7,-25.8C5.8,-20.6 5.4,-9 0,0Z" fill="#1c5c29" opacity="0.45"/><path d="M-1,-5.2C-7.1,-9.3 -7.4,-19.6 -2,-24C-3.4,-19.1 -2.4,-10.8 -1,-5.2Z" fill="#8fca97" opacity="0.95"/></g><g transform="translate(140.3,-4.2) rotate(102.1)"><path d="M0,0C-2.1,-1.5 -8.6,-6.9 -7.3,-13.8C-5.5,-18.1 -1.5,-19.8 0,-19.2C1.5,-19.8 5.5,-18.1 7.3,-13.8C8.6,-6.9 2.1,-1.5 0,0Z" fill="#3f8d4b" stroke="#1c5c29" stroke-width="2.5" stroke-linejoin="round"/><path d="M0,0C2.1,-1.5 8.6,-6.9 7.3,-13.8C6.3,-17.3 3.9,-19 1.5,-19.2C5.1,-15.4 4.8,-6.7 0,0Z" fill="#1c5c29" opacity="0.45"/><path d="M-0.9,-3.8C-6.3,-6.9 -6.6,-14.6 -1.8,-17.9C-3,-14.2 -2.1,-8.1 -0.9,-3.8Z" fill="#8fca97" opacity="0.95"/></g><g transform="translate(158.4,-18.4) rotate(-62.1)"><path d="M0,0C-2.5,-2.1 -10.2,-9.3 -8.6,-18.6C-6.5,-24.3 -1.8,-26.6 0,-25.8C1.8,-26.6 6.5,-24.3 8.6,-18.6C10.2,-9.3 2.5,-2.1 0,0Z" fill="#3f8d4b" stroke="#1c5c29" stroke-width="2.5" stroke-linejoin="round"/><path d="M0,0C2.5,-2.1 10.2,-9.3 8.6,-18.6C7.4,-23.2 4.6,-25.5 1.8,-25.8C6,-20.6 5.6,-9 0,0Z" fill="#1c5c29" opacity="0.45"/><path d="M-1.1,-5.2C-7.4,-9.3 -7.7,-19.6 -2.1,-24C-3.5,-19.1 -2.5,-10.8 -1.1,-5.2Z" fill="#8fca97" opacity="0.95"/></g><g transform="translate(162.3,-17.1) rotate(59)"><path d="M0,0C-2.2,-1.9 -9,-8.4 -7.6,-16.9C-5.8,-22.1 -1.6,-24.2 0,-23.5C1.6,-24.2 5.8,-22.1 7.6,-16.9C9,-8.4 2.2,-1.9 0,0Z" fill="#3f8d4b" stroke="#1c5c29" stroke-width="2.5" stroke-linejoin="round"/><path d="M0,0C2.2,-1.9 9,-8.4 7.6,-16.9C6.5,-21.1 4,-23.2 1.6,-23.5C5.3,-18.8 5,-8.2 0,0Z" fill="#1c5c29" opacity="0.45"/><path d="M-0.9,-4.7C-6.5,-8.4 -6.9,-17.8 -1.9,-21.8C-3.1,-17.4 -2.2,-9.9 -0.9,-4.7Z" fill="#8fca97" opacity="0.95"/></g><g transform="translate(153.2,-44.2) rotate(-51.3)"><path d="M0,0C-2.5,-2.1 -10.2,-9.3 -8.6,-18.6C-6.5,-24.2 -1.8,-26.5 0,-25.8C1.8,-26.5 6.5,-24.2 8.6,-18.6C10.2,-9.3 2.5,-2.1 0,0Z" fill="#3f8d4b" stroke="#1c5c29" stroke-width="2.5" stroke-linejoin="round"/><path d="M0,0C2.5,-2.1 10.2,-9.3 8.6,-18.6C7.4,-23.2 4.6,-25.5 1.8,-25.8C6,-20.6 5.6,-9 0,0Z" fill="#1c5c29" opacity="0.45"/><path d="M-1.1,-5.2C-7.4,-9.3 -7.7,-19.6 -2.1,-24C-3.5,-19.1 -2.5,-10.8 -1.1,-5.2Z" fill="#8fca97" opacity="0.95"/></g><g transform="translate(154.5,-44.2) rotate(50.9)"><path d="M0,0C-2.3,-2.2 -9.4,-10 -8,-19.9C-6,-26 -1.6,-28.5 0,-27.7C1.6,-28.5 6,-26 8,-19.9C9.4,-10 2.3,-2.2 0,0Z" fill="#3f8d4b" stroke="#1c5c29" stroke-width="2.5" stroke-linejoin="round"/><path d="M0,0C2.3,-2.2 9.4,-10 8,-19.9C6.8,-24.9 4.2,-27.4 1.6,-27.7C5.5,-22.1 5.2,-9.7 0,0Z" fill="#1c5c29" opacity="0.45"/><path d="M-1,-5.5C-6.8,-10 -7.2,-21 -2,-25.7C-3.3,-20.5 -2.3,-11.6 -1,-5.5Z" fill="#8fca97" opacity="0.95"/></g><g transform="translate(150,-71.2) rotate(-35.4)"><path d="M0,0C-2.5,-2.5 -10.2,-11.3 -8.6,-22.5C-6.5,-29.4 -1.8,-32.2 0,-31.3C1.8,-32.2 6.5,-29.4 8.6,-22.5C10.2,-11.3 2.5,-2.5 0,0Z" fill="#3f8d4b" stroke="#1c5c29" stroke-width="2.5" stroke-linejoin="round"/><path d="M0,0C2.5,-2.5 10.2,-11.3 8.6,-22.5C7.4,-28.1 4.6,-31 1.8,-31.3C6,-25 5.6,-10.9 0,0Z" fill="#1c5c29" opacity="0.45"/><path d="M-1.1,-6.3C-7.4,-11.3 -7.7,-23.8 -2.1,-29.1C-3.5,-23.1 -2.5,-13.1 -1.1,-6.3Z" fill="#8fca97" opacity="0.95"/></g><g transform="translate(151.9,-71.2) rotate(48.8)"><path d="M0,0C-2.5,-2.3 -10.2,-10.3 -8.6,-20.5C-6.5,-26.8 -1.8,-29.4 0,-28.5C1.8,-29.4 6.5,-26.8 8.6,-20.5C10.2,-10.3 2.5,-2.3 0,0Z" fill="#559f5f" stroke="#216a30" stroke-width="2.5" stroke-linejoin="round"/><path d="M0,0C2.5,-2.3 10.2,-10.3 8.6,-20.5C7.4,-25.7 4.6,-28.2 1.8,-28.5C6,-22.8 5.6,-10 0,0Z" fill="#216a30" opacity="0.45"/><path d="M-1.1,-5.7C-7.4,-10.3 -7.7,-21.7 -2.1,-26.5C-3.5,-21.1 -2.5,-12 -1.1,-5.7Z" fill="#a3d6a8" opacity="0.95"/></g><g transform="translate(150.6,-94.5) rotate(2)"><path d="M0,0C-2.7,-3.1 -11.4,-13.8 -9.6,-27.5C-7.3,-36 -2,-39.4 0,-38.3C2,-39.4 7.3,-36 9.6,-27.5C11.4,-13.8 2.7,-3.1 0,0Z" fill="#559f5f" stroke="#216a30" stroke-width="2.5" stroke-linejoin="round"/><path d="M0,0C2.7,-3.1 11.4,-13.8 9.6,-27.5C8.2,-34.4 5.1,-37.9 2,-38.3C6.7,-30.6 6.3,-13.4 0,0Z" fill="#216a30" opacity="0.45"/><path d="M-1.2,-7.7C-8.2,-13.8 -8.6,-29.1 -2.4,-35.6C-3.9,-28.3 -2.7,-16.1 -1.2,-7.7Z" fill="#a3d6a8" opacity="0.95"/></g></g>
<g id="cluster"><use href="#stemD"/><use href="#stemB"/><use href="#stemA"/><use href="#stemC"/></g>
<clipPath id="plantclip"><rect x="-40" y="-160" width="660" height="160.5"/></clipPath>
<g id="plants" clip-path="url(#plantclip)"><use href="#cluster"/><use href="#cluster" x="164.5"/><g transform="translate(563,0) scale(-1,1)"><use href="#cluster"/><use href="#stemA" x="174"/></g></g>
<g id="rootTile" fill="none" stroke-width="2.3" stroke-linecap="round" stroke-linejoin="round"><path d="M6.3,2.2C6,4.1 4.8,10.1 4.5,13.4C4.1,16.7 3.8,18.5 4.2,21.8C4.6,25.1 6,29.4 7,33C8,36.6 9.6,41.7 10.1,43.5"/><path d="M46.2,2.2C46.7,4.1 49.2,10.1 49.3,13.4C49.4,16.7 48.1,19 46.9,21.8C45.7,24.6 43,26.5 42,30.2C41,33.9 40.9,39.1 40.9,44.2C40.8,49.3 41.5,55.6 41.7,61C41.9,66.4 42.3,71 42.3,76.4C42.2,81.8 42,87.1 41.3,93.2C40.6,99.3 38.6,109.5 38.1,112.8"/><path d="M22.4,23.2C23.3,23.4 26,24.7 28,24.6C30,24.5 32,23.9 34.3,22.5C36.6,21 40.7,17 42,15.9"/><path d="M43.7,27.1C42,27.7 36.9,28.7 33.6,30.5C30.3,32.3 26.8,34.7 23.8,37.9C20.8,41.1 17.5,45.9 15.7,49.8C13.9,53.7 13.3,59.4 12.9,61.3"/><path d="M0,50.1C1.4,50.5 5.8,51.8 8.4,52.9C11,54 13.3,55.4 15.4,56.8C17.5,58.2 20.3,60.5 21.3,61.3"/><path d="M79.1,24.9C77.1,25.2 71,25.8 67.2,26.7C63.3,27.6 59.5,29 56,30.5C52.5,32 49.3,33.6 46.2,35.8C43.1,38 39,42.2 37.5,43.5"/><path d="M89.6,1.1C88.9,2.7 87.2,7.8 85.7,10.6C84.1,13.4 82.4,15.1 80.5,17.6C78.5,20 75.2,23 73.9,25.3C72.6,27.6 72.4,29.5 72.8,31.6C73.2,33.7 77.5,35.7 76.3,37.9C75.1,40.1 68.7,42.2 65.8,44.9C62.9,47.6 60.2,51.1 58.8,54C57.3,56.9 57.4,61 57.1,62.4"/><path d="M71.4,6.7C71.3,8.3 70.4,13.2 70.7,16.2C71,19.2 71.8,21.5 73.1,24.6C74.4,27.7 77.5,33 78.4,34.7"/><path d="M85.7,16.5C86,18.1 86.6,22.9 87.5,26C88.4,29.1 89.2,31.7 91,35.1C92.7,38.5 96.3,42.7 98,46.3C99.7,49.9 100.5,53.6 101.1,56.8C101.6,60 101.4,64 101.5,65.5"/><path d="M105,2.2C104.6,3.8 103.1,9 102.9,12C102.7,15 103.2,17.2 103.9,20.4C104.6,23.5 106.1,27.1 107.1,30.9C108,34.7 109.1,41 109.5,43.1"/><path d="M108.1,26C109.9,26.6 115.6,28 119,29.5C122.3,31 124.9,32.5 128.1,35.1C131.2,37.7 135.6,41 137.9,44.9C140.1,48.8 141,56.2 141.7,58.5"/><path d="M126,5C127.1,6.4 130.6,10.2 133,13.4C135.3,16.5 137.9,20.2 140,23.9C142.1,27.6 144.4,32.6 145.6,35.8C146.8,38.9 147.3,41 147.3,42.8C147.3,44.5 145.9,45.7 145.6,46.3"/><path d="M145.9,45.9C144.9,47.2 141.8,51 140,54C138.1,57 135,61 134.7,63.8C134.3,66.6 136.7,68.9 137.9,70.8C139,72.7 141,74.5 141.7,75.3"/><path d="M32.5,59.6C31.6,60.5 28.8,63.1 27.3,65.2C25.8,67.3 24.6,69.1 23.5,72.2C22.5,75.3 21.4,81.8 21,83.7"/><path d="M74.5,65.2C73.6,66.8 70.9,71.6 69.3,75C67.7,78.4 65.8,82 64.7,85.5C63.5,89 62.8,92.6 62.3,96C61.7,99.4 62.1,102.3 61.3,105.8C60.5,109.3 58.3,113.5 57.4,117C56.5,120.5 55.8,123.3 55.7,126.8C55.6,130.3 56.4,134.7 56.7,138C57,141.3 57.5,145.2 57.7,146.7"/><path d="M96.9,66.6C96.1,67.9 94.1,72.1 92.4,74.3C90.7,76.5 88.7,78.5 86.8,79.9C84.9,81.3 83.1,82.1 81.2,82.7C79.3,83.2 76.3,83 75.3,83.1"/><path d="M98,76.4C98,79.2 98.1,87.6 98.3,93.2C98.5,98.8 98.8,104.4 99.1,110C99.4,115.6 99.8,122.1 100.1,126.8C100.4,131.4 100.2,133.8 101.1,138C101.9,142.2 104.6,149.6 105.3,152"/><path d="M114.8,56.8C115.1,58.7 116.3,64.3 116.5,68C116.6,71.7 116.5,75.2 115.9,79.2C115.3,83.2 113.8,88 112.7,91.8C111.6,95.6 109.8,100.2 109.2,101.9"/><path d="M119,90.4C119.4,91.8 121,95.8 121.8,98.8C122.5,101.8 123.2,104.6 123.5,108.6C123.7,112.5 123.2,120.2 123.2,122.6"/><path d="M141.7,87.6C141,89.5 139,95.1 137.9,98.8C136.7,102.5 135.5,105.8 134.7,110C133.8,114.2 133.3,119.3 133,124C132.7,128.6 132.7,133.3 132.7,138C132.7,142.6 132.9,147.3 133,152C133.1,156.6 133.2,163.6 133.3,166"/><path d="M141.7,99.1C142.3,100.7 144.4,105.4 145.6,108.6C146.7,111.8 147.7,113.9 148.7,118.4C149.6,122.9 150.8,132.6 151.2,135.5"/><path d="M7,87.6C7.9,89 10.8,93.1 12.6,96C14.3,98.9 16,101.8 17.5,105.1C19,108.3 20.4,112.4 21.7,115.6C23,118.8 24.8,122.8 25.5,124.3"/><path d="M22.4,94.6C21.8,96.5 19.9,101.8 18.9,105.8C17.9,109.7 17.2,113.9 16.5,118.4C15.8,122.8 15.1,127.7 14.7,132.4C14.3,137 13.9,140.8 14,146.4C14.1,152 14.6,159.6 15.1,166C15.6,172.3 16.8,181.4 17.1,184.5"/><path d="M67.2,90.4C67.8,91.8 69.6,95.8 70.7,98.8C71.7,101.8 72.4,104.6 73.5,108.6C74.5,112.5 76.4,120.2 77,122.6"/><path d="M61.9,131C62.9,131.9 65.8,134.9 67.9,136.6C69.9,138.3 73.1,140.3 74.2,141.1"/><path d="M130.9,56.8C131.5,58 132.9,61.9 134.4,63.8C135.9,65.7 139,67.3 140,68"/><path d="M101.1,119.8C101.5,121.2 102.9,125.1 103.6,128.2C104.2,131.2 104.7,136.3 105,138"/></g>
<clipPath id="halfclip"><rect x="0" y="-5" width="281.5" height="230"/></clipPath>
<g id="rootsHalf" clip-path="url(#halfclip)"><use href="#rootTile" x="-134.2" y="0"/><use href="#rootTile" x="16.4" y="0"/><use href="#rootTile" x="167" y="0"/></g>
<g id="roots"><use href="#rootsHalf"/><use href="#rootsHalf" transform="translate(563,0) scale(-1,1)"/></g>
</defs>
<rect x="0" y="0" width="1473" height="1500" fill="#fff"/>
<rect x="-40" y="2" width="1280" height="112" rx="19" ry="19" fill="#21544c"/>
<g filter="url(#noop)" stroke="#fff" stroke-width="0.45"><text x="124" y="82.7" font-size="77.5" textLength="1005" lengthAdjust="spacingAndGlyphs">UPGRADED DRAINAGE SYSTEM</text></g>
<path d="M158,802.5H920V1016.5H158A27,27 0 0 1 131,989.5V829.5A27,27 0 0 1 158,802.5Z" fill="#21544c"/>
<path d="M680,1282H1437A27,27 0 0 1 1464,1309V1470A27,27 0 0 1 1437,1497H680Z" fill="#21544c"/>
<g filter="url(#noop)" stroke="#fff" stroke-width="0.45"><text x="180.5" y="871.5" font-size="30" textLength="681" lengthAdjust="spacingAndGlyphs">Each piece&#39;s ergonomic design features mutiple</text>
<text x="180.5" y="917.4" font-size="30" textLength="692" lengthAdjust="spacingAndGlyphs">drainage holes at the bottom to assist in flushing</text>
<text x="180.5" y="963.3" font-size="30" textLength="430" lengthAdjust="spacingAndGlyphs">out excess water from the soil.</text>
<text x="745" y="1352.3" font-size="30" textLength="661.5" lengthAdjust="spacingAndGlyphs">The water tray in the base can be separated to</text>
<text x="745" y="1398.1" font-size="30" textLength="673" lengthAdjust="spacingAndGlyphs">prevent water from overflowing and form water</text>
<text x="745" y="1443.9" font-size="30" textLength="115" lengthAdjust="spacingAndGlyphs">storage.</text>
</g><g transform="translate(133,463)">
<use href="#plants"/>
<use href="#boxBack"/>
<g clip-path="url(#potclip)">
<rect x="0" y="0" width="563" height="206" fill="url(#soil)"/>
<use href="#bands"/>
<rect x="0" y="0" width="563" height="110" fill="url(#wetTop)"/>
<g fill="url(#dotG1)"><use href="#dots"/></g>
<g stroke="url(#rootG1)"><use href="#roots"/></g>
<use href="#arrS" x="107" y="78"/><use href="#arrS" x="216" y="78"/><use href="#arrS" x="327.5" y="78"/><use href="#arrS" x="457" y="78"/><use href="#arrS" x="161.5" y="46"/><use href="#arrS" x="273.5" y="46"/><use href="#arrS" x="390.5" y="46"/><use href="#arrS" x="521" y="46"/>
</g>
<use href="#boxFront"/>
</g>
<g id="can" fill="none" stroke="#111" stroke-width="1.6" stroke-linecap="round" stroke-linejoin="round">
<path d="M541.8,407.9C540.6,410.7 537.2,419.6 534.6,425.2C532.1,430.8 529.2,435.1 526.5,441.5C523.8,447.8 519.7,459.8 518.3,463.5L535,463.5C536,459.8 538.9,447.5 540.7,441.5C542.5,435.4 544.1,431.9 545.8,427.2C547.6,422.5 550.4,415.7 551.3,413.4Z" fill="#d4e8f4" stroke="none" opacity="0.62"/><path d="M547.3,413.4C546.2,416 543,423.9 540.7,429.2C538.5,434.6 535.6,440.1 533.6,445.5C531.6,451 529.4,459.1 528.5,461.8" stroke="#fff" stroke-width="2.2" opacity="0.75"/><path d="M543.8,413.4C542.6,416 538.9,424.2 536.7,429.2C534.5,434.3 532.7,438.1 530.5,443.5C528.4,448.9 525.1,458.8 524,461.8" stroke="#9cc3d8" stroke-width="1" opacity="0.6"/>
<path d="M545.8,398.7C548.4,397.5 555.2,393.6 561.1,391.6C567,389.5 574.7,387.7 581.5,386.5C588.3,385.3 595,384.8 601.8,384.4C608.6,384 615.4,383.5 622.2,384C629,384.5 635.8,385.7 642.6,387.5C649.4,389.3 656.1,392 662.9,394.6C669.7,397.2 676.5,400.1 683.3,403.2C690.1,406.2 695.2,408.6 703.7,413C712.2,417.3 724.5,424 734.2,429.2C743.9,434.5 757.1,442 761.7,444.5L761.7,440.1C763.6,439.2 767.9,436.7 772.9,435C777.9,433.3 783.9,431.2 791.6,429.9C799.2,428.6 807.4,427.9 818.7,427.2C830,426.5 844.2,426.5 859.4,425.8C874.7,425.2 893.4,423.9 910.4,423.1C927.3,422.4 948.3,421.3 961.3,421.4C974.3,421.5 983.9,423.4 988.4,423.8L990.1,426.5C990,428.8 990.5,435.6 989.1,440.1C987.7,444.6 986.3,449.1 981.6,453.7C977,458.2 970.3,462.7 961.3,467.2C952.2,471.8 938.6,476.9 927.3,480.8C916,484.8 904.7,488.1 893.4,491C882.1,493.9 870.8,496.5 859.4,498.5C848.1,500.5 836.8,502.4 825.5,502.9C814.2,503.3 797.2,501.5 791.6,501.2L800,503C795.8,500.9 782.5,495.2 774.9,490.3C767.4,485.5 763.1,480.8 754.6,474.1C746.1,467.3 732.5,455.8 724,449.6C715.5,443.4 710.5,441.1 703.7,437C696.9,432.9 690.1,428.8 683.3,425.2C676.5,421.5 669.7,418 662.9,415C656.1,411.9 650.7,409 642.6,406.8C634.4,404.6 621.5,402.5 614.1,401.8C606.6,401 603.2,401.8 597.8,402.2C592.3,402.5 586.9,402.8 581.5,403.8C576,404.7 570.1,406.3 565.2,407.9C560.3,409.5 554.1,412.4 551.9,413.4Z" fill="#d6e9f8" stroke="none"/>
<path d="M545.8,398.7C548.4,397.5 555.2,393.6 561.1,391.6C567,389.5 574.7,387.7 581.5,386.5C588.3,385.3 595,384.8 601.8,384.4C608.6,384 615.4,383.5 622.2,384C629,384.5 635.8,385.7 642.6,387.5C649.4,389.3 656.1,392 662.9,394.6C669.7,397.2 676.5,400.1 683.3,403.2C690.1,406.2 695.2,408.6 703.7,413C712.2,417.3 724.5,424 734.2,429.2C743.9,434.5 757.1,442 761.7,444.5" stroke="#1a1a1a" stroke-width="1"/>
<path d="M551.9,413.4C554.1,412.4 560.3,409.5 565.2,407.9C570.1,406.3 576,404.7 581.5,403.8C586.9,402.8 592.3,402.5 597.8,402.2C603.2,401.8 606.6,401 614.1,401.8C621.5,402.5 634.4,404.6 642.6,406.8C650.7,409 656.1,411.9 662.9,415C669.7,418 676.5,421.5 683.3,425.2C690.1,428.8 696.9,432.9 703.7,437C710.5,441.1 715.5,443.4 724,449.6C732.5,455.8 746.1,467.3 754.6,474.1C763.1,480.8 767.4,485.5 774.9,490.3C782.5,495.2 795.8,500.9 800,503" stroke="#1a1a1a" stroke-width="0.9"/>
<path d="M791.6,501.2C797.2,501.5 814.2,503.3 825.5,502.9C836.8,502.4 848.1,500.5 859.4,498.5C870.8,496.5 882.1,493.9 893.4,491C904.7,488.1 916,484.8 927.3,480.8C938.6,476.9 952.2,471.8 961.3,467.2C970.3,462.7 977,458.2 981.6,453.7C986.3,449.1 987.7,444.6 989.1,440.1C990.5,435.6 990,428.8 990.1,426.5" stroke="#333" stroke-width="0.9"/>
<ellipse cx="548.3" cy="405.6" rx="3.4" ry="7.6" transform="rotate(-22 548.3 405.6)" fill="#e6f2fa" stroke="#333" stroke-width="1.1"/>
<path d="M766.1,451C764.7,448 760.6,441.3 757.6,433.3C754.6,425.3 750.9,411.8 748.1,402.7C745.3,393.7 742.4,386.6 740.6,379C738.8,371.4 737.7,361.2 737.2,356.9C736.7,352.6 737.2,356.1 737.6,353.1C738,350.1 738.4,342.5 739.5,338.8C740.6,335.2 742.4,333.3 744.3,331.2C746.2,329.2 749.8,327.3 750.9,326.5" stroke-width="1.8"/>
<path d="M750.9,326.5C752.8,325.4 757.9,322 762.3,319.8C766.8,317.6 771.8,315.6 777.5,313.2C783.2,310.7 790.2,307.7 796.5,305.2C802.9,302.6 809.2,300.2 815.6,297.9C821.9,295.7 828.2,293.8 834.6,291.9C840.9,290 846.6,288.2 853.6,286.5C860.5,284.9 869.1,283.1 876.4,281.8C883.7,280.5 893.8,279.1 897.3,278.6"/>
<path d="M915.4,277C918.1,277.2 926.6,277.2 931.5,278C936.4,278.8 941.2,280.3 944.8,281.8C948.5,283.3 951.3,285 953.4,286.9C955.4,288.8 956.6,292.1 957.2,293.2" stroke-width="1.3"/>
<path d="M957.2,293.2C958.3,296.8 961,303.9 963.8,315.1C966.7,326.2 971.3,348.1 974.3,359.9C977.3,371.7 979.4,377.1 981.6,385.8C983.9,394.5 986.7,407.8 987.8,412.3" stroke-width="1.2"/>
<path d="M990.1,426.5C990.2,425.4 990.9,422.1 990.5,419.7C990.1,417.3 988.2,413.5 987.8,412.3" stroke-width="1.2"/>
<ellipse cx="837.4" cy="305" rx="55" ry="10" transform="rotate(-13.3 837.4 305)" fill="#0a0a0a" stroke="none"/><path d="M750.9,326.5C753.8,326.5 762,326.6 768,326.5C774,326.3 780.7,326.3 787,325.7C793.4,325.1 800.7,323.9 806,323C811.4,322.2 814.9,321.3 819.4,320.4C823.8,319.4 830.4,317.8 832.7,317.3" stroke-width="1.1"/>
<path d="M897.3,278.6C898.9,275.8 903,267.1 906.8,261.8C910.6,256.5 915.4,250.7 920.1,246.6C924.9,242.5 930.9,239.6 935.3,237.1C939.8,234.6 944.8,232.7 946.7,231.8"/>
<path d="M910.6,286.9C911.2,285.3 912.2,280.9 914.4,277C916.6,273.2 919.8,267.8 923.9,263.7C928,259.6 933.4,255.6 939.1,252.3C944.8,249 951.8,245.8 958.1,243.8C964.5,241.7 970.8,241.3 977.1,240C983.5,238.6 993,236.3 996.2,235.6"/>
<path d="M1065.4,340.3C1065.1,344.4 1065.6,357 1063.7,364.8C1061.9,372.6 1058.7,380 1054.4,387.2C1050.1,394.3 1044.2,402 1038.1,407.5C1032,413.1 1025.2,417.5 1017.7,420.6C1010.3,423.6 1001.4,425.7 993.3,425.9C985.1,426.1 972.9,422.5 968.8,421.8"/>
<path d="M1051.1,346.4C1050.4,350.2 1049.6,362.1 1047,368.8C1044.5,375.6 1040.3,381.9 1036,387.2C1031.8,392.5 1026.9,397.2 1021.8,400.6C1016.7,404 1011.3,406 1005.5,407.5C999.7,409 993.1,409.8 987.2,409.6C981.2,409.4 972.6,406.9 969.7,406.3"/>
<path d="M1199.6,126.2C1195.1,129.8 1180.8,142.1 1172.4,148.1C1164,154.1 1156.6,158.3 1149.3,161.9C1142,165.6 1137.4,168.4 1128.5,170C1119.7,171.7 1106.2,171.4 1096.2,171.9C1086.2,172.3 1077,172.1 1068.5,172.8C1060,173.4 1052.3,173.9 1045.4,175.8C1038.5,177.6 1034.6,180.4 1027,183.9C1019.3,187.3 1007.7,192.7 999.3,196.6C990.8,200.4 983.5,202.9 976.2,207C968.9,211 960.4,216.8 955.4,220.8C950.4,224.8 947.7,229.5 946.2,231.2" stroke-width="1.7"/>
<path d="M946.2,231.2C946.4,232.5 945.4,237.5 947.3,239.3C949.2,241.1 952.9,242 957.7,242C962.5,242 969.2,240.5 976.2,239.3C983.1,238 991.6,236.8 999.3,234.7C1006.9,232.5 1015.8,229.7 1022.3,226.6C1028.9,223.5 1034.3,219.5 1038.5,216.2C1042.7,212.9 1045.4,209.6 1047.7,207C1050,204.3 1051.6,201.2 1052.3,200" stroke-width="1.7"/>
<path d="M948,235.8C948.9,233.8 950.3,226.7 953.1,223.6C955.9,220.5 961.9,217.5 964.6,217.3C967.4,217.2 970,220.3 969.7,222.7C969.4,225 965.9,229 962.8,231.2C959.7,233.4 953.2,235.2 951.2,236" stroke-width="1.7"/>
<path d="M991.9,200.5L992.8,212.7" stroke-width="1.7"/>
<path d="M999.3,231.9C1001.6,231.1 1008.5,228.5 1013.1,227.3C1017.7,226 1024.6,224.8 1027,224.3" stroke-width="1.7"/>
<path d="M983.6,243.9C981.4,244.6 973.4,245.7 970.4,248C967.4,250.4 965.4,254.2 965.8,257.7C966.2,261.3 969.1,266 972.7,269.3C976.4,272.6 982.1,276.6 987.7,277.4C993.3,278.1 999.6,275.6 1006.2,273.9C1012.7,272.2 1021.6,268.8 1027,267C1032.3,265.1 1035.2,263.1 1038.5,262.8C1041.8,262.5 1045.2,264.7 1046.6,265.1" stroke-width="1.7"/>
<path d="M982.6,260L986.6,276.7" stroke-width="1.7"/>
<path d="M980.8,278.5C981.7,280.8 983.9,288.7 986.6,292.4C989.2,296.1 991,299.8 996.9,300.7C1002.9,301.5 1014.3,298.4 1022.3,297.4C1030.4,296.4 1039.8,295.2 1045.4,294.7C1051,294.1 1053.3,293.9 1055.8,294.2C1058.3,294.5 1059.7,296.1 1060.4,296.5" stroke-width="1.7"/>
<path d="M997.4,292.4L999.3,300.4" stroke-width="1.7"/>
<path d="M992.3,301.6C993.1,303.9 994.6,311.2 996.9,315.4C999.3,319.7 1003.6,324.8 1006.2,327C1008.7,329.1 1007.6,329 1012.2,328.4C1016.8,327.8 1026.4,325.5 1033.9,323.5C1041.3,321.6 1050,318 1057,316.6C1063.9,315.2 1072.4,315.3 1075.4,315" stroke-width="1.7"/>
<path d="M1005,310.8L1008.5,325.8" stroke-width="1.7"/>
<path d="M1010.8,329.3C1011.6,330.6 1012.7,334.9 1015.4,337.4C1018.1,339.9 1023.1,342.6 1027,344.3C1030.8,346 1033.9,347.6 1038.5,347.8C1043.1,348 1048.9,347.2 1054.7,345.5C1060.4,343.7 1066.2,340.8 1073.1,337.4C1080,333.9 1088.5,329.5 1096.2,324.7C1103.9,319.9 1111.6,314.7 1119.3,308.5C1127,302.4 1134.7,294.7 1142.4,287.7C1150.1,280.8 1158.5,272.2 1165.5,267C1172.4,261.8 1177,261.2 1183.9,256.6C1190.8,252 1199.3,245.2 1207,239.3C1214.7,233.3 1222.4,226.4 1230.1,220.8C1237.8,215.2 1249.3,208.3 1253.2,205.8" stroke-width="1.7"/>
<path d="M1036.2,338.5L1036.6,346.6" stroke-width="1.7"/>
<path d="M1046.6,251.3C1048.1,251 1052.9,250.7 1055.8,249.7C1058.7,248.6 1062.5,245.8 1063.9,245" stroke-width="1.7"/>
<path d="M1065,285C1066.6,284.7 1071.4,284.3 1074.3,283.1C1077.2,282 1081,278.9 1082.4,278.1" stroke-width="1.7"/>
<path d="M1079.6,315.4L1081.9,315" stroke-width="1.7"/>
</g>
<g transform="translate(898.5,803)">
<use href="#plants"/>
<use href="#boxBack"/>
<g clip-path="url(#potclip)">
<rect x="0" y="0" width="563" height="206" fill="url(#soil)"/>
<use href="#bands"/>
<rect x="0" y="98" width="563" height="108" fill="url(#wetBot)"/>
<g fill="url(#dotG2)"><use href="#dots"/></g>
<g stroke="url(#rootG2)"><use href="#roots"/></g>
<use href="#arrL" x="53.5" y="174.5"/><use href="#arrL" x="174" y="174.5"/><use href="#arrL" x="281.5" y="174.5"/><use href="#arrL" x="389" y="174.5"/><use href="#arrL" x="509.5" y="174.5"/><use href="#arrL" x="120.2" y="152"/><use href="#arrL" x="227.5" y="152"/><use href="#arrL" x="334.8" y="152"/><use href="#arrL" x="442" y="152"/>
</g>
<use href="#boxFront"/>
<g clip-path="url(#trayclip2)"><rect x="8" y="193.5" width="547" height="12" fill="#58b0d6" opacity="0.93"/><path d="M7,0V141C7,150 17.5,146 17.5,157V175C17.5,191 25,198.5 41,198.5H83.2C101.8,198.5 101.8,182.5 120.2,182.5C138.8,182.5 138.8,198.5 157.2,198.5H190.5C209,198.5 209,182.5 227.5,182.5C246,182.5 246,198.5 264.5,198.5H297.8C316.2,198.5 316.2,182.5 334.8,182.5C353.2,182.5 353.2,198.5 371.8,198.5H405C423.5,198.5 423.5,182.5 442,182.5C460.5,182.5 460.5,198.5 479,198.5H522C538,198.5 545.5,191 545.5,175V157C545.5,146 556,150 556,141V0" fill="none" stroke="#8fd4f2" stroke-width="1.6" opacity="0.8" transform="translate(0,3.5)"/></g>
</g>
<g transform="translate(133,1282)">
<use href="#plants"/>
<use href="#boxBack"/>
<g clip-path="url(#potclip)">
<rect x="0" y="0" width="563" height="206" fill="url(#soil)"/>
<use href="#bands"/>
<rect x="0" y="100" width="563" height="106" fill="url(#wetBot)"/>
<g fill="url(#dotG3)"><use href="#dots"/></g>
<g stroke="url(#rootG3)"><use href="#roots"/></g>
<use href="#arrU" transform="translate(53.5,128) scale(1,-1)"/><use href="#arrU" transform="translate(174,128) scale(1,-1)"/><use href="#arrU" transform="translate(281.5,128) scale(1,-1)"/><use href="#arrU" transform="translate(389,128) scale(1,-1)"/><use href="#arrU" transform="translate(509.5,128) scale(1,-1)"/><use href="#arrU" transform="translate(120.2,104) scale(1,-1)"/><use href="#arrU" transform="translate(227.5,104) scale(1,-1)"/><use href="#arrU" transform="translate(334.8,104) scale(1,-1)"/><use href="#arrU" transform="translate(442,104) scale(1,-1)"/>
</g>
<use href="#boxFront"/>
<g clip-path="url(#trayclip3)"><path d="M8,182.3 C120,185.5 300,184 555,187.5 V206 H8Z" fill="#55b3db" opacity="0.94"/><path d="M8,182.3 C120,185.5 300,184 555,187.5" fill="none" stroke="#7fd0f0" stroke-width="1.6"/><path d="M7,0V141C7,150 17.5,146 17.5,157V175C17.5,191 25,198.5 41,198.5H83.2C101.8,198.5 101.8,182.5 120.2,182.5C138.8,182.5 138.8,198.5 157.2,198.5H190.5C209,198.5 209,182.5 227.5,182.5C246,182.5 246,198.5 264.5,198.5H297.8C316.2,198.5 316.2,182.5 334.8,182.5C353.2,182.5 353.2,198.5 371.8,198.5H405C423.5,198.5 423.5,182.5 442,182.5C460.5,182.5 460.5,198.5 479,198.5H522C538,198.5 545.5,191 545.5,175V157C545.5,146 556,150 556,141V0" fill="none" stroke="#9ee0f8" stroke-width="1.6" opacity="0.85" transform="translate(0,3.5)"/><path d="M7,0V141C7,150 17.5,146 17.5,157V175C17.5,191 25,198.5 41,198.5H83.2C101.8,198.5 101.8,182.5 120.2,182.5C138.8,182.5 138.8,198.5 157.2,198.5H190.5C209,198.5 209,182.5 227.5,182.5C246,182.5 246,198.5 264.5,198.5H297.8C316.2,198.5 316.2,182.5 334.8,182.5C353.2,182.5 353.2,198.5 371.8,198.5H405C423.5,198.5 423.5,182.5 442,182.5C460.5,182.5 460.5,198.5 479,198.5H522C538,198.5 545.5,191 545.5,175V157C545.5,146 556,150 556,141V0" fill="none" stroke="#9ee0f8" stroke-width="1.3" opacity="0.7" transform="translate(0,-3.5)"/><circle cx="256" cy="195.4" r="1" fill="#d8f3fd" opacity="0.7"/><circle cx="255.7" cy="199.8" r="0.8" fill="#d8f3fd" opacity="0.7"/><circle cx="112.8" cy="194.7" r="1.3" fill="#d8f3fd" opacity="0.7"/><circle cx="342.5" cy="189.8" r="1" fill="#d8f3fd" opacity="0.7"/><circle cx="176.3" cy="188.4" r="1.3" fill="#d8f3fd" opacity="0.7"/><circle cx="353.4" cy="195.9" r="1" fill="#d8f3fd" opacity="0.7"/><circle cx="530.1" cy="196.8" r="1.3" fill="#d8f3fd" opacity="0.7"/><circle cx="361.8" cy="196.3" r="1.3" fill="#d8f3fd" opacity="0.7"/><circle cx="47.8" cy="187.5" r="0.8" fill="#d8f3fd" opacity="0.7"/><circle cx="334.8" cy="198.7" r="1" fill="#d8f3fd" opacity="0.7"/><circle cx="249.7" cy="199.6" r="1.3" fill="#d8f3fd" opacity="0.7"/><circle cx="139" cy="191.4" r="0.8" fill="#d8f3fd" opacity="0.7"/><circle cx="368.4" cy="193.9" r="1" fill="#d8f3fd" opacity="0.7"/><circle cx="231.6" cy="195.3" r="0.8" fill="#d8f3fd" opacity="0.7"/><circle cx="392.7" cy="191.7" r="0.8" fill="#d8f3fd" opacity="0.7"/><circle cx="288.4" cy="187.4" r="1.3" fill="#d8f3fd" opacity="0.7"/><circle cx="424" cy="193" r="1" fill="#d8f3fd" opacity="0.7"/><circle cx="220.8" cy="201.4" r="1.3" fill="#d8f3fd" opacity="0.7"/><circle cx="14.3" cy="190.1" r="0.8" fill="#d8f3fd" opacity="0.7"/><circle cx="265.4" cy="201.7" r="1" fill="#d8f3fd" opacity="0.7"/><circle cx="238.6" cy="195.5" r="0.8" fill="#d8f3fd" opacity="0.7"/><circle cx="430.5" cy="191" r="0.8" fill="#d8f3fd" opacity="0.7"/><circle cx="180.5" cy="187.2" r="1" fill="#d8f3fd" opacity="0.7"/><circle cx="419.6" cy="188.8" r="0.8" fill="#d8f3fd" opacity="0.7"/><circle cx="392.3" cy="187.2" r="1" fill="#d8f3fd" opacity="0.7"/><circle cx="440.4" cy="189.7" r="1.3" fill="#d8f3fd" opacity="0.7"/><circle cx="114.8" cy="194.6" r="1.3" fill="#d8f3fd" opacity="0.7"/><circle cx="425.7" cy="193.3" r="1" fill="#d8f3fd" opacity="0.7"/><circle cx="76.3" cy="193.3" r="0.8" fill="#d8f3fd" opacity="0.7"/><circle cx="14.3" cy="200" r="1.3" fill="#d8f3fd" opacity="0.7"/><circle cx="176.7" cy="200.3" r="0.8" fill="#d8f3fd" opacity="0.7"/><circle cx="114.2" cy="201.9" r="1.3" fill="#d8f3fd" opacity="0.7"/><circle cx="357.4" cy="188.5" r="0.8" fill="#d8f3fd" opacity="0.7"/><circle cx="128.1" cy="190.9" r="1.3" fill="#d8f3fd" opacity="0.7"/><circle cx="190" cy="191.4" r="0.8" fill="#d8f3fd" opacity="0.7"/><circle cx="53.7" cy="190.1" r="1.3" fill="#d8f3fd" opacity="0.7"/><circle cx="144" cy="196" r="1" fill="#d8f3fd" opacity="0.7"/><circle cx="346.8" cy="188.9" r="1.3" fill="#d8f3fd" opacity="0.7"/><circle cx="272.8" cy="195.6" r="1" fill="#d8f3fd" opacity="0.7"/><circle cx="111.8" cy="189.3" r="0.8" fill="#d8f3fd" opacity="0.7"/><circle cx="451.5" cy="190.7" r="0.8" fill="#d8f3fd" opacity="0.7"/><circle cx="98.8" cy="196.4" r="1.3" fill="#d8f3fd" opacity="0.7"/><circle cx="119.2" cy="201.3" r="1" fill="#d8f3fd" opacity="0.7"/><circle cx="336.9" cy="193.3" r="0.8" fill="#d8f3fd" opacity="0.7"/><circle cx="72.3" cy="194.7" r="1" fill="#d8f3fd" opacity="0.7"/><circle cx="141.5" cy="197.6" r="1" fill="#d8f3fd" opacity="0.7"/><circle cx="239.1" cy="200.6" r="1" fill="#d8f3fd" opacity="0.7"/><circle cx="171" cy="189.6" r="1.3" fill="#d8f3fd" opacity="0.7"/><circle cx="536.8" cy="188.9" r="1" fill="#d8f3fd" opacity="0.7"/><circle cx="313.3" cy="199.8" r="1.3" fill="#d8f3fd" opacity="0.7"/><circle cx="53.7" cy="190.2" r="0.8" fill="#d8f3fd" opacity="0.7"/><circle cx="414.7" cy="188" r="1" fill="#d8f3fd" opacity="0.7"/><circle cx="252.5" cy="187.9" r="0.8" fill="#d8f3fd" opacity="0.7"/><circle cx="164.8" cy="195" r="0.8" fill="#d8f3fd" opacity="0.7"/><circle cx="63.3" cy="189.1" r="1" fill="#d8f3fd" opacity="0.7"/><circle cx="538.6" cy="196.9" r="1.3" fill="#d8f3fd" opacity="0.7"/><circle cx="293.2" cy="201.2" r="1.3" fill="#d8f3fd" opacity="0.7"/><circle cx="32.8" cy="187.3" r="1" fill="#d8f3fd" opacity="0.7"/><circle cx="389" cy="201.4" r="0.8" fill="#d8f3fd" opacity="0.7"/><circle cx="334.1" cy="188.1" r="0.8" fill="#d8f3fd" opacity="0.7"/></g>
</g>
</svg>
</body></html>
